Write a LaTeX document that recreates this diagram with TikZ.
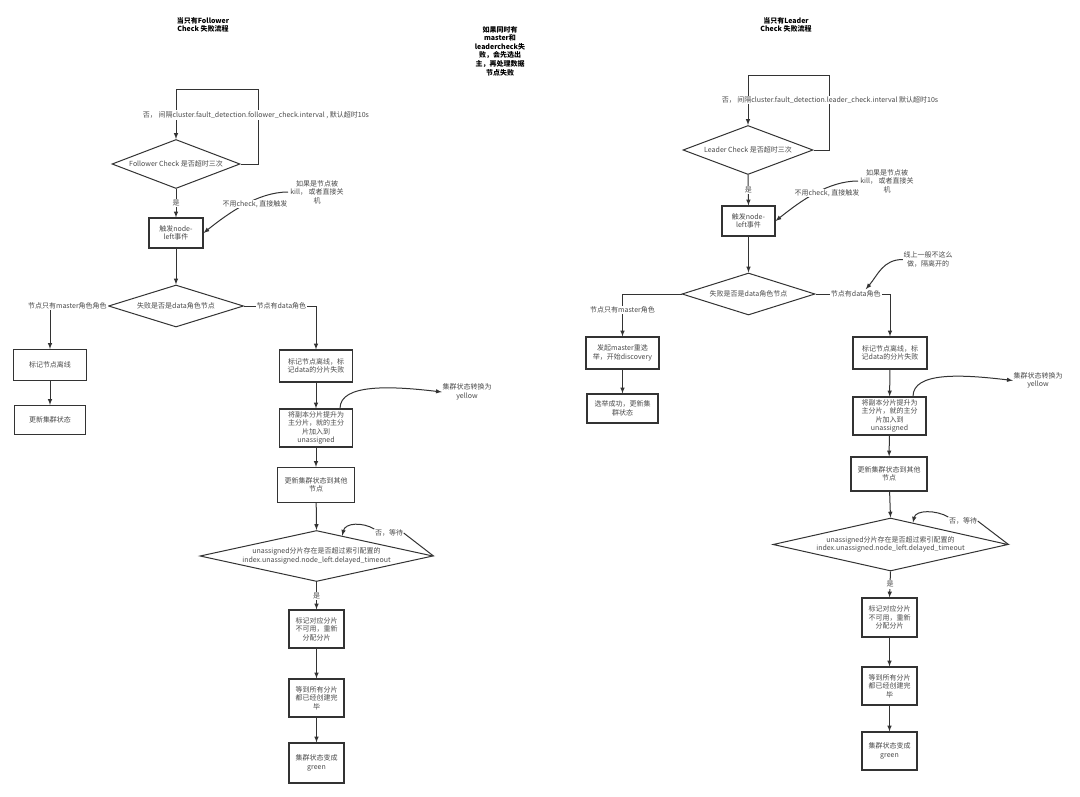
\documentclass[tikz,border=0pt]{standalone}
\usepackage{fontspec}
\setmainfont{Noto Sans CJK SC}
\usetikzlibrary{shapes.geometric,calc}

\definecolor{linec}{HTML}{333333}
\definecolor{txtc}{HTML}{4A4A4A}

\tikzset{
  box/.style={draw=linec, line width=1.1pt, fill=white, align=center, inner sep=1pt, text=txtc},
  chk/.style={diamond, draw=linec, line width=1pt, aspect=4.5, inner sep=-3pt, align=center, text=txtc},
  lbl/.style={fill=white, inner sep=1pt, text=txtc, align=center},
  note/.style={fill=white, inner sep=0.5pt, text=txtc, align=center},
  ttl/.style={font=\bfseries\fontsize{7}{8.6}\selectfont, align=center, text=black},
  conn/.style={draw=linec, line width=1pt},
  flow/.style={conn, ->},
}

\begin{document}
\begin{tikzpicture}[x=1pt, y=-1pt, >=latex, font=\fontsize{7}{8.6}\selectfont]
    \fill[white] (0,0) rectangle (1080,796);

    % 1. Follower Check 
    \node[ttl] (ttlF) at (203,25) {当只有Follower\\Check 失败流程};
    \node[chk, minimum width=128pt, minimum height=49pt] (chkF) at (176,164) {Follower Check 是否超时三次};
    \draw[flow] (chkF.east) -| ++(18,-75) -| (chkF.north);
    \node[lbl] (waitF) at (256,115) {否， 间隔cluster.fault\_detection.follower\_check.interval , 默认超时10s};

    \node[box, minimum width=54pt, minimum height=30pt] (trigF) at (176,233) {触发node-\\left事件};
    \draw[flow] (chkF.south) -- node[lbl] {是} (trigF.north);
    \draw[flow] (288,192) .. controls +(-30,0) and +(25,-20) .. (trigF.east);
    \node[note] (killF) at (317,192) {如果是节点被\\kill， 或者直接关\\机};
    \node[note] (directF) at (255,204) {不用check, 直接触发};

    \node[chk, minimum width=135pt, minimum height=42pt] (roleF) at (176,306) {失败是否是data角色节点};
    \draw[flow] (trigF.south) -- (roleF.north);

    % 2. master 
    \node[box, minimum width=73pt, minimum height=31pt] (offF) at (50,365) {标记节点离线};
    \node[box, minimum width=71pt, minimum height=29pt] (updF) at (50,420) {更新集群状态};
    \draw[flow] (roleF.west) -| node[lbl, pos=0.35] {节点只有master角色角色} (offF.north);
    \draw[flow] (offF) -- (updF);

    % 3. data 
    \node[box, minimum width=73pt, minimum height=32pt] (markF) at (316,366) {标记节点离线，标\\记data的分片失败};
    \draw[flow] (roleF.east) -| node[lbl, pos=0.26] {节点有data角色} (markF.north);
    \node[box, minimum width=73pt, minimum height=38pt] (promF) at (316,428) {将副本分片提升为\\主分片，就的主分\\片加入到\\unassigned};
    \node[note] (yelF) at (467,392) {集群状态转换为\\yellow};
    \draw[flow] ([xshift=24pt]promF.north) .. controls +(0,-25) and +(-50,-6) .. (yelF.west);
    \node[box, minimum width=77pt, minimum height=35pt] (syncF) at (316,485) {更新集群状态到其他\\节点};
    \draw[flow] (markF) -- (promF);
    \draw[flow] (promF) -- (syncF);

    \node[chk, minimum width=233pt, minimum height=51pt] (delayF) at (316.5,556) {unassigned分片存在是否超过索引配置的\\index.unassigned.node\_left.delayed\_timeout};
    \draw[flow] (syncF) -- (delayF.north);
    \node[note] (waitF2) at (389,533) {否，等待};
    \draw[conn] (delayF.east) -- (waitF2.east);
    \draw[flow] (waitF2.north west) .. controls +(-12,-7) and +(3,-13) .. ($(delayF.north)!0.22!(delayF.east)$);

    \node[box, minimum width=55pt, minimum height=38pt] (unavF) at (316.5,629) {标记对应分片\\不可用，重新\\分配分片};
    \draw[flow] (delayF.south) -- node[lbl] {是} (unavF.north);
    \node[box, minimum width=55pt, minimum height=38pt] (doneF) at (316.5,698) {等到所有分片\\都已经创建完\\毕};
    \node[box, minimum width=55pt, minimum height=40pt] (grnF) at (316.5,763) {集群状态变成\\green};
    \draw[flow] (unavF) -- (doneF);
    \draw[flow] (doneF) -- (grnF);

    % 4. 
    \node[ttl] (both) at (500,51) {如果同时有\\master和\\leadercheck失\\败，会先选出\\主，再处理数据\\节点失败};

    % 5. Leader Check 
    \node[ttl] (ttlL) at (786,25) {当只有Leader\\Check 失败流程};
    \node[chk, minimum width=130pt, minimum height=49pt] (chkL) at (748,150) {Leader Check 是否超时三次};
    \draw[flow] (chkL.east) -| ++(16,-75) -| (chkL.north);
    \node[lbl] (waitL) at (830,100) {否， 间隔cluster.fault\_detection.leader\_check.interval 默认超时10s};

    \node[box, minimum width=53pt, minimum height=30pt] (trigL) at (748.5,221) {触发node-\\left事件};
    \draw[flow] (chkL.south) -- node[lbl] {是} (trigL.north);
    \draw[flow] (858,181) .. controls +(-30,0) and +(25,-20) .. (trigL.east);
    \node[note] (killL) at (887,181) {如果是节点被\\kill， 或者直接关\\机};
    \node[note] (directL) at (827,193) {不用check, 直接触发};

    \node[chk, minimum width=133pt, minimum height=42pt] (roleL) at (748.5,294) {失败是否是data角色节点};
    \draw[flow] (trigL.south) -- (roleL.north);

    \node[box, minimum width=73pt, minimum height=32pt] (electL) at (622.5,353) {发起master重选\\举，开始discovery};
    \node[box, minimum width=71pt, minimum height=29pt] (succL) at (622.5,408.5) {选举成功，更新集\\群状态};
    \draw[flow] (roleL.west) -| node[lbl, pos=0.69] {节点只有master角色} (electL.north);
    \draw[flow] (electL) -- (succL);

    \node[box, minimum width=74pt, minimum height=32pt] (markL) at (890,353) {标记节点离线，标\\记data的分片失败};
    \draw[flow] (roleL.east) -| node[lbl, pos=0.27] (dataL) {节点有data角色} (markL.north);
    \node[note] (isoL) at (928,259.5) {线上一般不这么\\做，隔离开的};
    \draw[flow] (isoL.west) .. controls +(-20,0) and +(12,-14) .. ([xshift=10pt]dataL.north);

    \node[box, minimum width=73pt, minimum height=38pt] (promL) at (889.5,416) {将副本分片提升为\\主分片，就的主分\\片加入到\\unassigned};
    \node[note] (yelL) at (1038,380.5) {集群状态转换为\\yellow};
    \draw[flow] ([xshift=23.5pt]promL.north) .. controls +(0,-25) and +(-50,-6) .. (yelL.west);
    \node[box, minimum width=76pt, minimum height=34pt] (syncL) at (889,474) {更新集群状态到其他\\节点};
    \draw[flow] (markL) -- (promL);
    \draw[flow] (promL) -- (syncL);

    \node[chk, minimum width=235pt, minimum height=53pt] (delayL) at (890.5,544.5) {unassigned分片存在是否超过索引配置的\\index.unassigned.node\_left.delayed\_timeout};
    \draw[flow] (syncL) -- (delayL.north);
    \node[note] (waitL2) at (963,521) {否，等待};
    \draw[conn] (delayL.east) -- (waitL2.east);
    \draw[flow] (waitL2.north west) .. controls +(-12,-7) and +(3,-13) .. ($(delayL.north)!0.19!(delayL.east)$);

    \node[box, minimum width=55pt, minimum height=39pt] (unavL) at (889.5,617.5) {标记对应分片\\不可用，重新\\分配分片};
    \draw[flow] (delayL.south) -- node[lbl] {是} (unavL.north);
    \node[box, minimum width=55pt, minimum height=38pt] (doneL) at (889.5,686) {等到所有分片\\都已经创建完\\毕};
    \node[box, minimum width=55pt, minimum height=38pt] (grnL) at (889.5,751) {集群状态变成\\green};
    \draw[flow] (unavL) -- (doneL);
    \draw[flow] (doneL) -- (grnL);
\end{tikzpicture}
\end{document}
